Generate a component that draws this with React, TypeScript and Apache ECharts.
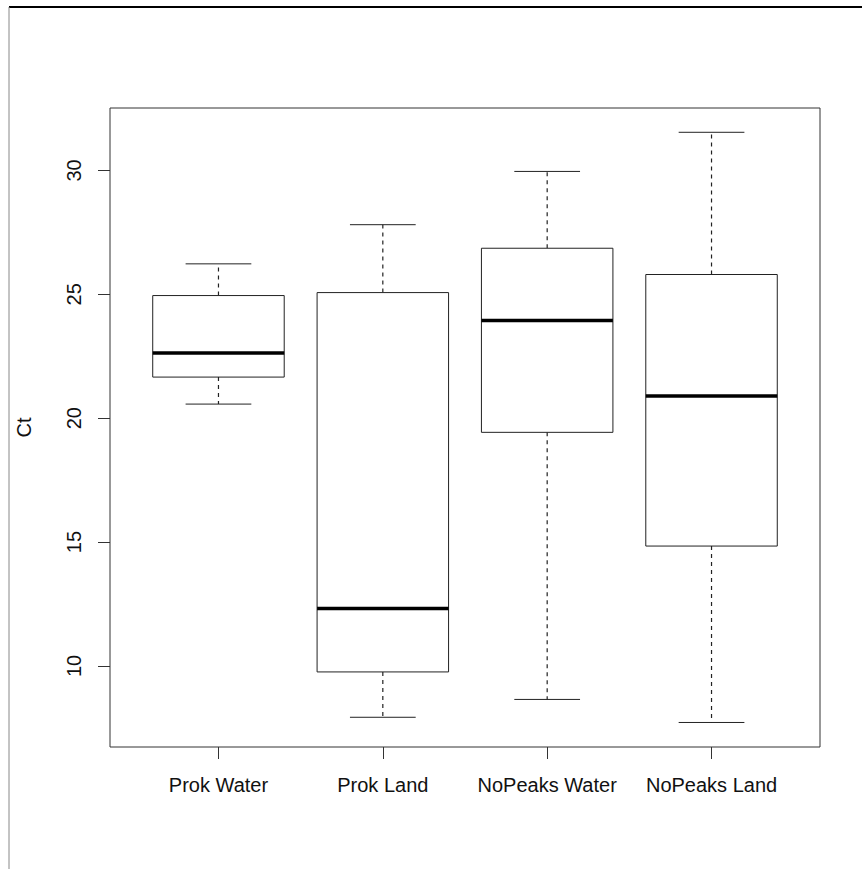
import React, { useEffect, useRef } from "react";
import * as echarts from "echarts";

const categories = ["Prok Water", "Prok Land", "NoPeaks Water", "NoPeaks Land"];
const lowerWhisker = [20.57, 7.93, 8.65, 7.72];
const lowerQuartile = [21.66, 9.76, 19.43, 14.84];
const medians = [22.63, 12.32, 23.94, 20.9];
const upperQuartile = [24.95, 25.07, 26.86, 25.8];
const upperWhisker = [26.23, 27.81, 29.96, 31.54];
const yTicks = [10, 15, 20, 25, 30];
const yName = "Ct";

const FONT = "Liberation Sans, Arial, Helvetica, sans-serif";

export default function App() {
  const ref = useRef<HTMLDivElement>(null);
  useEffect(() => {
    if (!ref.current) return;
    const chart = echarts.init(ref.current, null, { renderer: "svg" });
    const data = categories.map((_, i) => [
      i + 1,
      lowerWhisker[i],
      lowerQuartile[i],
      medians[i],
      upperQuartile[i],
      upperWhisker[i],
    ]);
    const option = {
      animation: false,
      backgroundColor: "#ffffff",
      grid: {
        left: 110,
        top: 108,
        width: 710,
        height: 639,
        show: true,
        borderColor: "#333",
        borderWidth: 1,
        backgroundColor: "transparent",
      },
      xAxis: {
        type: "value",
        min: 0.34,
        max: 4.66,
        axisLine: { show: false },
        splitLine: { show: false },
        axisTick: {
          show: true,
          length: 12,
          customValues: [1, 2, 3, 4],
          lineStyle: { color: "#333", width: 1 },
        },
        axisLabel: {
          customValues: [1, 2, 3, 4],
          formatter: (v: number) => categories[Math.round(v) - 1],
          color: "#111",
          fontSize: 20,
          fontFamily: FONT,
          margin: 28,
        },
      },
      yAxis: {
        type: "value",
        min: 6.73,
        max: 32.52,
        name: yName,
        nameLocation: "middle",
        nameRotate: 90,
        nameGap: 76,
        nameTextStyle: { color: "#111", fontSize: 20, fontFamily: FONT },
        axisLine: { show: false },
        splitLine: { show: false },
        axisTick: {
          show: true,
          length: 12,
          customValues: yTicks,
          lineStyle: { color: "#333", width: 1 },
        },
        axisLabel: {
          customValues: yTicks,
          rotate: 90,
          color: "#111",
          fontSize: 20,
          fontFamily: FONT,
          margin: 26,
        },
      },
      graphic: [
        {
          type: "line",
          shape: { x1: 9, y1: 7, x2: 862, y2: 7 },
          style: { stroke: "#000", lineWidth: 2 },
        },
        {
          type: "line",
          shape: { x1: 9, y1: 7, x2: 9, y2: 869 },
          style: { stroke: "#888", lineWidth: 1 },
        },
      ],
      series: [
        {
          type: "custom",
          data,
          encode: { x: 0, y: [1, 2, 3, 4, 5] },
          renderItem: (params: any, api: any) => {
            const x = api.value(0);
            const lw = api.coord([x, api.value(1)]);
            const q1 = api.coord([x, api.value(2)]);
            const md = api.coord([x, api.value(3)]);
            const q3 = api.coord([x, api.value(4)]);
            const uw = api.coord([x, api.value(5)]);
            const half = api.size([0.4, 0])[0];
            const cap = api.size([0.2, 0])[0];
            const cx = lw[0];
            const stroke = "#222";
            return {
              type: "group",
              children: [
                {
                  type: "line",
                  shape: { x1: cx, y1: q3[1], x2: cx, y2: uw[1] },
                  style: { stroke, lineWidth: 1.2, lineDash: [4, 4] },
                },
                {
                  type: "line",
                  shape: { x1: cx, y1: q1[1], x2: cx, y2: lw[1] },
                  style: { stroke, lineWidth: 1.2, lineDash: [4, 4] },
                },
                {
                  type: "line",
                  shape: { x1: cx - cap, y1: uw[1], x2: cx + cap, y2: uw[1] },
                  style: { stroke, lineWidth: 1 },
                },
                {
                  type: "line",
                  shape: { x1: cx - cap, y1: lw[1], x2: cx + cap, y2: lw[1] },
                  style: { stroke, lineWidth: 1 },
                },
                {
                  type: "rect",
                  shape: { x: cx - half, y: q3[1], width: 2 * half, height: q1[1] - q3[1] },
                  style: { fill: "#fff", stroke, lineWidth: 1 },
                },
                {
                  type: "line",
                  shape: { x1: cx - half, y1: md[1], x2: cx + half, y2: md[1] },
                  style: { stroke: "#000", lineWidth: 3.5 },
                },
              ],
            };
          },
        },
      ],
    };
    chart.setOption(option as any);
    return () => chart.dispose();
  }, []);
  return (
    <div
      ref={ref}
      style={{ position: "absolute", left: 0, top: 0, width: 862, height: 869 }}
    />
  );
}
